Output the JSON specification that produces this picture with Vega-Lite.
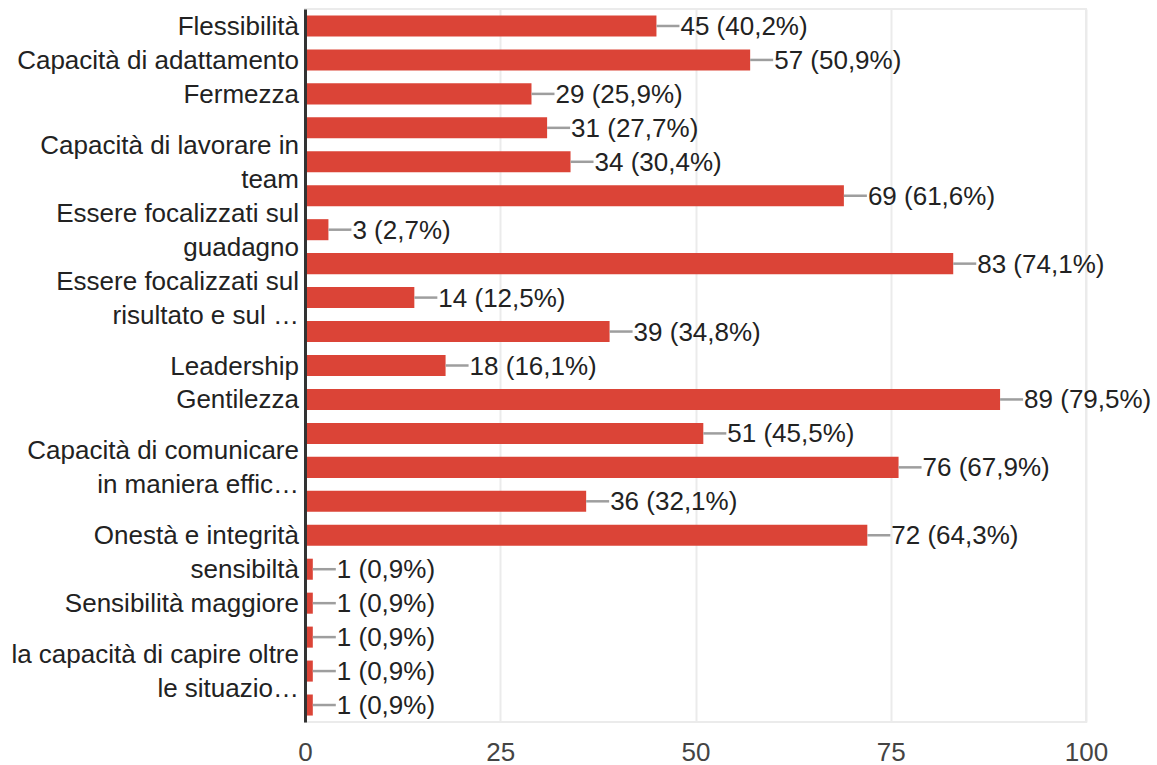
{
  "$schema": "https://vega.github.io/schema/vega-lite/v6.json",
  "width": 781,
  "height": 713,
  "autosize": {"type": "none"},
  "padding": {"left": 305, "top": 9, "right": 71, "bottom": 43},
  "background": "white",
  "config": {
    "view": {"stroke": "#ebebeb", "strokeWidth": 2},
    "font": "Liberation Sans"
  },
  "data": {
    "values": [
      {"idx": 1, "answer": "Flessibilità", "count": 45, "pct": "45 (40,2%)"},
      {"idx": 2, "answer": "Capacità di adattamento", "count": 57, "pct": "57 (50,9%)"},
      {"idx": 3, "answer": "Fermezza", "count": 29, "pct": "29 (25,9%)"},
      {"idx": 4, "answer": "", "count": 31, "pct": "31 (27,7%)"},
      {"idx": 5, "answer": "Capacità di lavorare in\nteam", "count": 34, "pct": "34 (30,4%)"},
      {"idx": 6, "answer": "", "count": 69, "pct": "69 (61,6%)"},
      {"idx": 7, "answer": "Essere focalizzati sul\nguadagno", "count": 3, "pct": "3 (2,7%)"},
      {"idx": 8, "answer": "", "count": 83, "pct": "83 (74,1%)"},
      {"idx": 9, "answer": "Essere focalizzati sul\nrisultato e sul …", "count": 14, "pct": "14 (12,5%)"},
      {"idx": 10, "answer": "", "count": 39, "pct": "39 (34,8%)"},
      {"idx": 11, "answer": "Leadership", "count": 18, "pct": "18 (16,1%)"},
      {"idx": 12, "answer": "Gentilezza", "count": 89, "pct": "89 (79,5%)"},
      {"idx": 13, "answer": "", "count": 51, "pct": "51 (45,5%)"},
      {"idx": 14, "answer": "Capacità di comunicare\nin maniera effic…", "count": 76, "pct": "76 (67,9%)"},
      {"idx": 15, "answer": "", "count": 36, "pct": "36 (32,1%)"},
      {"idx": 16, "answer": "Onestà e integrità", "count": 72, "pct": "72 (64,3%)"},
      {"idx": 17, "answer": "sensibiltà", "count": 1, "pct": "1 (0,9%)"},
      {"idx": 18, "answer": "Sensibilità maggiore", "count": 1, "pct": "1 (0,9%)"},
      {"idx": 19, "answer": "", "count": 1, "pct": "1 (0,9%)"},
      {"idx": 20, "answer": "la capacità di capire oltre\nle situazio…", "count": 1, "pct": "1 (0,9%)"},
      {"idx": 21, "answer": "", "count": 1, "pct": "1 (0,9%)"}
    ]
  },
  "encoding": {
    "y": {
      "field": "idx",
      "type": "ordinal",
      "sort": "ascending",
      "scale": {"paddingInner": 0.38, "paddingOuter": 0.19},
      "axis": {
        "labels": false,
        "ticks": false,
        "title": null,
        "grid": false,
        "domainColor": "#333333",
        "domainWidth": 3,
        "zindex": 1
      }
    }
  },
  "layer": [
    {
      "mark": {"type": "bar", "color": "#db4437"},
      "encoding": {
        "x": {
          "field": "count",
          "type": "quantitative",
          "scale": {"domain": [0, 100], "nice": false},
          "axis": {
            "values": [0, 25, 50, 75, 100],
            "title": null,
            "grid": true,
            "gridColor": "#ebebeb",
            "gridWidth": 2,
            "domain": false,
            "ticks": false,
            "labelFlush": false,
            "labelFontSize": 26,
            "labelColor": "#444444",
            "labelPadding": 17
          }
        }
      }
    },
    {
      "mark": {"type": "rule", "color": "#9e9e9e", "strokeWidth": 2.5, "x2Offset": 23},
      "encoding": {
        "x": {"field": "count", "type": "quantitative"},
        "x2": {"field": "count"}
      }
    },
    {
      "mark": {"type": "text", "align": "left", "baseline": "middle", "dx": 24, "dy": 1, "fontSize": 26, "color": "#222222"},
      "encoding": {
        "x": {"field": "count", "type": "quantitative"},
        "text": {"field": "pct"}
      }
    },
    {
      "transform": [{"filter": "indexof(datum.answer, '\\n') < 0"}],
      "mark": {"type": "text", "align": "right", "baseline": "middle", "dx": -6, "dy": 1, "fontSize": 26, "color": "#222222"},
      "encoding": {
        "x": {"datum": 0},
        "text": {"field": "answer"}
      }
    },
    {
      "transform": [{"filter": "indexof(datum.answer, '\\n') >= 0"}],
      "mark": {"type": "text", "align": "right", "baseline": "middle", "dx": -6, "dy": -16, "fontSize": 26, "color": "#222222", "lineBreak": "\n", "lineHeight": 34},
      "encoding": {
        "x": {"datum": 0},
        "text": {"field": "answer"}
      }
    }
  ]
}
